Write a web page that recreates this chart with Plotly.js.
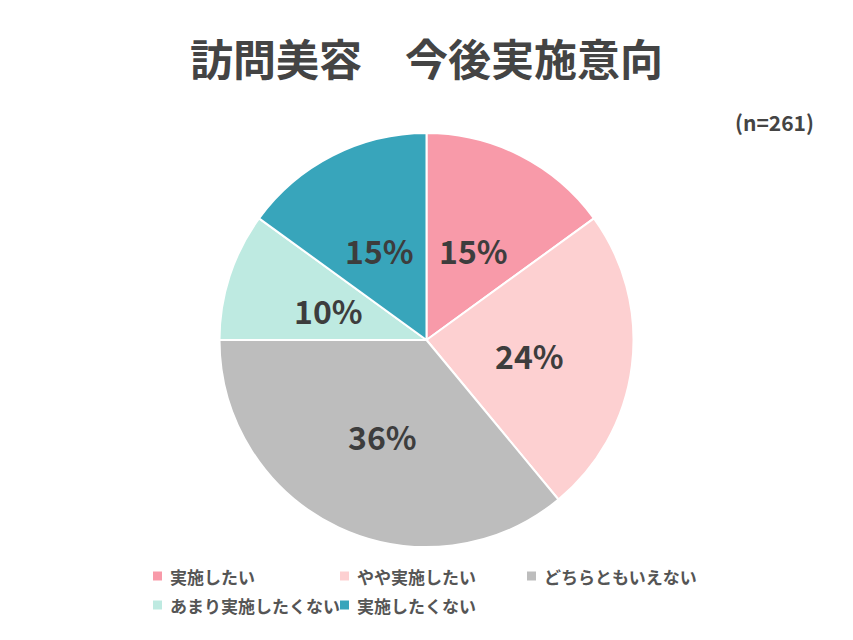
<!DOCTYPE html>
<html>
<head>
<meta charset="utf-8">
<script src="https://cdn.plot.ly/plotly-3.0.1.min.js"></script>
<style>html,body{margin:0;padding:0;background:#fff;}#chart{width:853px;height:640px;}</style>
</head>
<body>
<div id="chart"></div>
<script>
const categories = ["実施したい", "やや実施したい", "どちらともいえない", "あまり実施したくない", "実施したくない"];
const values = [15, 24, 36, 10, 15];
const colors = ["#F89AA9", "#FDD0D1", "#BDBDBD", "#BEEAE1", "#38A5BB"];
const titleText = "訪問美容　今後実施意向";
const noteText = "(n=261)";

const FONT = "'Noto Sans CJK JP', 'Noto Sans', sans-serif";

const W = 853, H = 640;
const M = { l: 0, r: 0, t: 133, b: 93, autoexpand: false };
const plotW = W - M.l - M.r, plotH = H - M.t - M.b;
const radius = Math.min(plotW, plotH) / 2;

// pixel -> paper helpers
const px2x = (px) => (px - M.l) / plotW;
const py2y = (py) => (H - M.b - py) / plotH;

const trace = {
  type: "pie",
  labels: categories,
  values: values,
  sort: false,
  direction: "clockwise",
  rotation: 0,
  marker: { colors: colors, line: { color: "#ffffff", width: 2 } },
  textinfo: "none",
  textposition: "none",
  hoverinfo: "label+percent",
  showlegend: false,
  domain: { x: [0, 1], y: [0, 1] }
};

// value labels at half radius along each slice's mid-angle (derived from the data)
const total = values.reduce((a, b) => a + b, 0);
let cum = 0;
const labelAnns = values.map((v) => {
  const mid = (cum + v / 2) / total;
  cum += v;
  const ang = mid * 2 * Math.PI;
  const r = radius * 0.5;
  return {
    text: Math.round(v / total * 100) + "%",
    xref: "paper", yref: "paper",
    x: 0.5 + (r * Math.sin(ang)) / plotW,
    y: 0.5 + (r * Math.cos(ang)) / plotH,
    xanchor: "center", yanchor: "middle",
    yshift: -2,
    showarrow: false,
    font: { family: FONT, size: 32, color: "#3d3d3d", weight: "bold" }
  };
});

// legend laid out as a 3-column grid below the pie
const LEG = { x0: 157.5, y0: 576, colW: 187, rowH: 29, cols: 3, sq: 9, gap: 10.5 };
const legendShapes = [];
const legendAnns = [];
categories.forEach((name, i) => {
  const cx = LEG.x0 + (i % LEG.cols) * LEG.colW;
  const cy = LEG.y0 + Math.floor(i / LEG.cols) * LEG.rowH;
  legendShapes.push({
    type: "rect", xref: "paper", yref: "paper",
    x0: px2x(cx - LEG.sq / 2), x1: px2x(cx + LEG.sq / 2),
    y0: py2y(cy + LEG.sq / 2), y1: py2y(cy - LEG.sq / 2),
    fillcolor: colors[i], line: { width: 0 }
  });
  legendAnns.push({
    text: name,
    xref: "paper", yref: "paper",
    x: px2x(cx + LEG.gap), y: py2y(cy),
    xanchor: "left", yanchor: "middle",
    showarrow: false,
    font: { family: FONT, size: 17, color: "#555555", weight: "bold" }
  });
});

const layout = {
  width: W,
  height: H,
  margin: M,
  paper_bgcolor: "#ffffff",
  plot_bgcolor: "#ffffff",
  font: { family: FONT, color: "#555555" },
  title: {
    text: titleText,
    font: { family: FONT, size: 43, color: "#444444", weight: "bold" },
    x: 0.5, xanchor: "center",
    yref: "container", y: 1 - 61 / 640, yanchor: "middle"
  },
  showlegend: false,
  shapes: legendShapes,
  annotations: [{
    text: noteText,
    xref: "paper", yref: "paper",
    x: px2x(816), xanchor: "right",
    y: py2y(122), yanchor: "middle",
    showarrow: false,
    font: { family: FONT, size: 21, color: "#444444", weight: "bold" }
  }].concat(labelAnns, legendAnns)
};

Plotly.newPlot("chart", [trace], layout, { displayModeBar: false, staticPlot: true });
</script>
</body>
</html>
